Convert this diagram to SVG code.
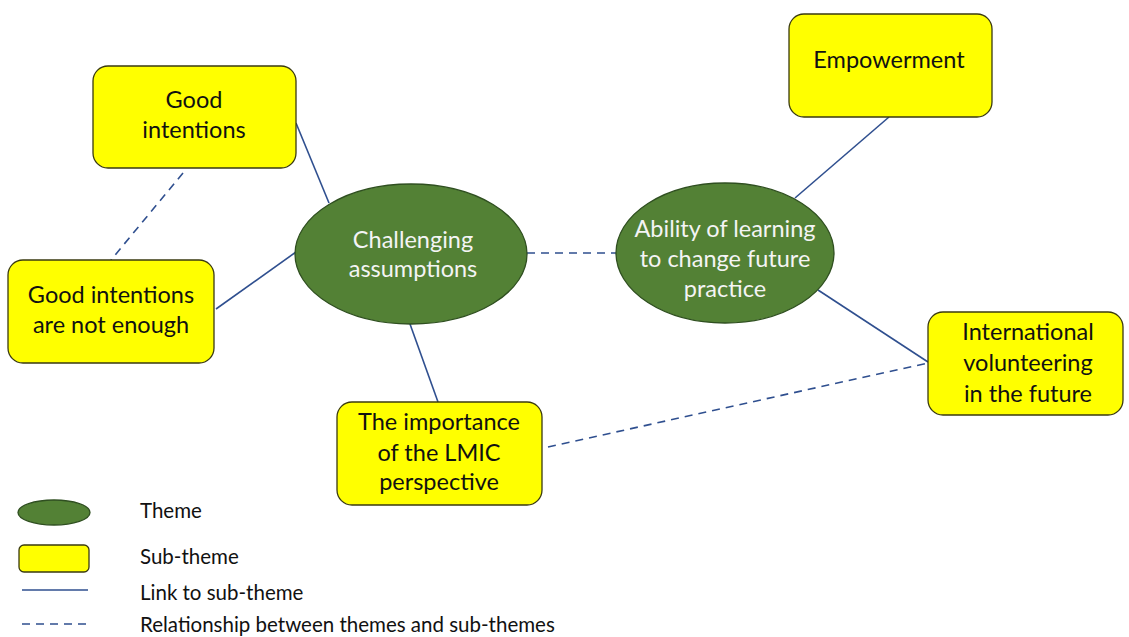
<svg xmlns="http://www.w3.org/2000/svg" width="1129" height="637" viewBox="0 0 1129 637">
  <style>
    .sub { fill: #FFFF00; stroke: #3a3a10; stroke-width: 1.3; }
    .theme { fill: #538135; stroke: #2f4f20; stroke-width: 1.3; }
    .t { font-family: Lato, "Liberation Sans", sans-serif; font-size: 23.5px; text-anchor: middle; }
    .dark { fill: #111; }
    .light { fill: #f4f4f4; }
    .link { stroke: #2F4F8F; stroke-width: 1.6; fill: none; }
    .rel { stroke: #2F4F8F; stroke-width: 1.6; fill: none; stroke-dasharray: 8 6; }
    .leg { font-family: Lato, "Liberation Sans", sans-serif; font-size: 20.5px; fill: #111; }
  </style>
  <rect width="1129" height="637" fill="#fff"/>

  <!-- connectors -->
  <g id="connectors">
    <line class="link" x1="296" y1="123" x2="329" y2="203"/>
    <line class="link" x1="216" y1="309" x2="296" y2="252"/>
    <line class="link" x1="410" y1="324" x2="438" y2="402"/>
    <line class="link" x1="795" y1="198" x2="889" y2="117"/>
    <line class="link" x1="818" y1="290" x2="928" y2="362"/>
    <line class="rel" x1="183" y1="173" x2="111" y2="260"/>
    <line class="rel" x1="527" y1="253" x2="616" y2="253"/>
    <line class="rel" x1="548" y1="447" x2="928" y2="363"/>
  </g>

  <!-- sub-themes -->
  <g id="good-intentions">
    <rect class="sub" x="93" y="66" width="203" height="102" rx="15"/>
    <text class="t dark" x="194" y="108">Good</text>
    <text class="t dark" x="194" y="138">intentions</text>
  </g>
  <g id="not-enough">
    <rect class="sub" x="8" y="260" width="206" height="103" rx="15"/>
    <text class="t dark" x="111" y="303">Good intentions</text>
    <text class="t dark" x="111" y="333">are not enough</text>
  </g>
  <g id="lmic">
    <rect class="sub" x="337" y="402" width="205" height="103" rx="15"/>
    <text class="t dark" x="439" y="430">The importance</text>
    <text class="t dark" x="439" y="461">of the LMIC</text>
    <text class="t dark" x="439" y="490">perspective</text>
  </g>
  <g id="empowerment">
    <rect class="sub" x="789" y="14" width="203" height="103" rx="15"/>
    <text class="t dark" x="889" y="68">Empowerment</text>
  </g>
  <g id="international">
    <rect class="sub" x="928" y="312" width="195" height="103" rx="15"/>
    <text class="t dark" x="1028" y="340">International</text>
    <text class="t dark" x="1028" y="371">volunteering</text>
    <text class="t dark" x="1028" y="402">in the future</text>
  </g>

  <!-- themes -->
  <g id="challenging">
    <ellipse class="theme" cx="411" cy="254" rx="116" ry="70"/>
    <text class="t light" x="413" y="248">Challenging</text>
    <text class="t light" x="413" y="277">assumptions</text>
  </g>
  <g id="ability">
    <ellipse class="theme" cx="725" cy="253" rx="109" ry="70"/>
    <text class="t light" x="725" y="237">Ability of learning</text>
    <text class="t light" x="725" y="267">to change future</text>
    <text class="t light" x="725" y="297">practice</text>
  </g>

  <!-- legend -->
  <g id="legend">
    <ellipse class="theme" cx="54" cy="512.5" rx="36" ry="12.5"/>
    <rect class="sub" x="19" y="545" width="70" height="27" rx="5"/>
    <line class="link" x1="22" y1="590" x2="88" y2="590"/>
    <line class="rel" x1="22" y1="624" x2="88" y2="624"/>
    <text class="leg" x="140" y="518">Theme</text>
    <text class="leg" x="140" y="564">Sub-theme</text>
    <text class="leg" x="140" y="600">Link to sub-theme</text>
    <text class="leg" x="140" y="632">Relationship between themes and sub-themes</text>
  </g>
</svg>
